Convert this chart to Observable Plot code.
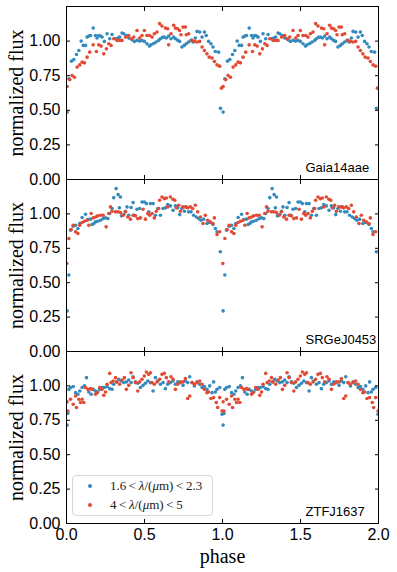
<!DOCTYPE html>
<html>
<head>
<meta charset="utf-8">
<script src="https://cdn.jsdelivr.net/npm/d3@7"></script>
<script src="https://cdn.jsdelivr.net/npm/@observablehq/plot@0.6"></script>
<style>
  body { margin: 0; background: #fff; }
  #chart { position: relative; width: 397px; height: 572px; overflow: hidden; }
  #chart svg { position: absolute; left: 0; }
  .legend { position: absolute; left: 72px; top: 475px; width: 141px; height: 41px; box-sizing: border-box;
    border: 1px solid #d6d6d6; border-radius: 4px; background: rgba(255,255,255,0.85);
    font-family: "Liberation Serif", "Times New Roman", serif; font-size: 13px; color: #222; }
  .legend .row { position: absolute; left: 0; height: 16px; line-height: 16px; white-space: nowrap; }
  .legend .mk { position: absolute; left: 15px; top: 6px; width: 4px; height: 4px; border-radius: 50%; }
  .legend .tx { position: absolute; left: 37px; top: 0; }
</style>
</head>
<body>
<div id="chart"></div>
<script>
// ---- data: phase-folded light curves (one cycle, phase 0..1), plotted twice ----
const panels = ["Gaia14aae", "SRGeJ0453", "ZTFJ1637"];
const bands = ["1.6<λ/(μm)<2.3", "4<λ/(μm)<5"];
const bandColors = ["#348ABD", "#E24A33"];
const xTicks = [0, 0.5, 1, 1.5, 2];
const yTicks = [0, 0.25, 0.5, 0.75, 1];

const gaiaBlue = [[0.004,0.487],[0.015,0.727],[0.032,0.855],[0.047,0.867],[0.064,0.903],[0.079,0.932],[0.094,1.0],[0.107,0.969],[0.122,0.969],[0.132,1.029],[0.143,1.036],[0.154,1.041],[0.171,1.094],[0.186,1.041],[0.196,1.022],[0.207,1.041],[0.218,1.036],[0.228,1.029],[0.243,0.998],[0.26,1.053],[0.277,1.017],[0.292,1.048],[0.314,1.017],[0.329,1.022],[0.341,1.029],[0.356,1.058],[0.367,1.053],[0.384,1.041],[0.399,1.022],[0.42,1.01],[0.435,0.998],[0.452,1.005],[0.469,1.0],[0.484,1.005],[0.499,0.998],[0.516,0.981],[0.531,0.964],[0.542,0.973],[0.559,0.983],[0.574,0.993],[0.591,1.005],[0.602,1.017],[0.615,1.027],[0.627,1.029],[0.64,1.022],[0.655,1.036],[0.67,1.017],[0.687,1.029],[0.698,1.017],[0.713,1.005],[0.725,0.998],[0.74,0.957],[0.755,0.969],[0.768,0.981],[0.783,0.993],[0.798,1.005],[0.811,0.993],[0.826,1.022],[0.837,1.07],[0.854,1.065],[0.869,1.029],[0.884,1.065],[0.896,1.041],[0.911,0.998],[0.926,0.981],[0.939,0.957],[0.954,0.925],[0.975,0.92],[0.987,0.514]];
const gaiaRed = [[0.004,0.672],[0.021,0.722],[0.036,0.751],[0.051,0.739],[0.068,0.812],[0.085,0.828],[0.1,0.848],[0.115,0.843],[0.132,0.884],[0.149,0.92],[0.171,0.973],[0.192,0.925],[0.207,0.973],[0.222,0.964],[0.239,0.908],[0.256,0.944],[0.271,0.981],[0.286,0.969],[0.303,1.017],[0.324,1.005],[0.341,1.005],[0.356,1.005],[0.378,1.029],[0.399,1.041],[0.414,1.017],[0.431,1.029],[0.452,1.077],[0.469,1.022],[0.484,1.041],[0.499,1.077],[0.516,1.041],[0.533,1.041],[0.548,1.029],[0.563,1.053],[0.58,1.065],[0.597,1.126],[0.612,1.109],[0.634,1.094],[0.649,1.089],[0.655,0.973],[0.67,1.053],[0.687,1.114],[0.698,1.094],[0.713,1.089],[0.725,1.077],[0.734,1.046],[0.747,1.101],[0.762,1.101],[0.768,1.046],[0.783,1.053],[0.805,1.005],[0.82,0.998],[0.837,0.993],[0.854,0.998],[0.869,0.957],[0.884,0.932],[0.9,0.908],[0.915,0.884],[0.933,0.877],[0.948,0.853],[0.965,0.828],[0.982,0.819],[0.993,0.66]];

const srgBlue = [[0.004,0.295],[0.015,0.556],[0.026,0.882],[0.043,0.911],[0.058,0.918],[0.073,0.894],[0.085,0.93],[0.1,0.974],[0.122,0.998],[0.137,0.959],[0.154,0.962],[0.164,0.923],[0.175,0.93],[0.186,0.942],[0.2,0.947],[0.218,0.954],[0.235,0.966],[0.25,0.971],[0.265,0.966],[0.277,1.003],[0.292,1.039],[0.303,1.118],[0.318,1.184],[0.331,1.14],[0.346,1.123],[0.339,1.044],[0.352,0.986],[0.367,0.995],[0.378,1.019],[0.388,1.051],[0.399,0.99],[0.414,1.046],[0.427,1.082],[0.435,0.99],[0.452,1.034],[0.469,1.039],[0.484,1.087],[0.499,1.087],[0.512,1.075],[0.527,1.015],[0.538,1.075],[0.555,1.075],[0.57,0.99],[0.585,1.039],[0.602,0.99],[0.619,1.039],[0.634,1.044],[0.649,1.068],[0.666,1.058],[0.683,1.027],[0.698,1.058],[0.713,1.044],[0.726,0.995],[0.74,1.039],[0.756,1.019],[0.768,1.051],[0.783,1.015],[0.798,1.015],[0.815,0.99],[0.832,0.978],[0.847,0.966],[0.862,0.954],[0.879,0.962],[0.9,0.93],[0.918,0.937],[0.939,0.923],[0.954,0.894],[0.965,0.87],[0.986,0.725]];
const srgRed = [[0.002,0.64],[0.015,0.821],[0.03,0.887],[0.043,0.918],[0.058,0.87],[0.073,0.858],[0.085,0.918],[0.1,0.937],[0.115,0.947],[0.132,0.954],[0.143,0.918],[0.158,1.003],[0.171,0.971],[0.186,0.978],[0.2,0.986],[0.218,0.99],[0.235,0.99],[0.254,0.906],[0.271,1.003],[0.282,1.051],[0.292,1.019],[0.314,1.015],[0.329,1.015],[0.346,1.01],[0.363,0.99],[0.378,1.015],[0.393,0.978],[0.41,0.962],[0.427,0.99],[0.442,0.986],[0.457,0.966],[0.474,0.971],[0.491,1.034],[0.506,0.962],[0.521,1.003],[0.533,0.99],[0.548,1.003],[0.563,0.971],[0.576,1.019],[0.591,1.039],[0.597,1.099],[0.612,1.123],[0.627,1.111],[0.64,1.116],[0.649,1.051],[0.666,1.123],[0.683,1.106],[0.694,1.099],[0.704,1.044],[0.719,1.063],[0.73,1.019],[0.745,1.051],[0.762,1.051],[0.777,1.044],[0.794,1.051],[0.809,1.039],[0.826,1.063],[0.841,1.015],[0.858,0.978],[0.875,0.93],[0.89,0.99],[0.905,0.954],[0.922,0.942],[0.939,0.93],[0.948,0.971],[0.965,0.85],[0.982,0.87]];

const ztfBlue = [[0.004,0.715],[0.009,0.8],[0.015,0.975],[0.026,0.988],[0.043,0.995],[0.058,0.951],[0.073,0.939],[0.085,0.963],[0.1,0.988],[0.115,1.0],[0.128,1.06],[0.143,0.956],[0.158,0.939],[0.171,0.975],[0.186,0.963],[0.2,0.956],[0.213,0.975],[0.228,0.988],[0.243,0.988],[0.26,0.995],[0.277,0.98],[0.292,0.975],[0.303,1.012],[0.32,1.029],[0.335,1.048],[0.35,1.036],[0.367,1.024],[0.384,1.029],[0.399,1.043],[0.414,1.024],[0.427,1.067],[0.442,1.029],[0.457,1.019],[0.474,0.988],[0.491,1.004],[0.506,1.019],[0.521,1.036],[0.538,1.024],[0.555,0.963],[0.57,1.06],[0.585,1.036],[0.602,1.012],[0.619,1.024],[0.634,0.98],[0.649,1.012],[0.666,1.024],[0.683,1.036],[0.698,1.012],[0.713,1.029],[0.73,1.024],[0.747,1.004],[0.762,1.036],[0.777,1.024],[0.79,1.067],[0.805,1.024],[0.82,1.0],[0.837,1.029],[0.854,1.012],[0.869,0.988],[0.884,0.995],[0.9,0.975],[0.918,1.0],[0.933,0.951],[0.943,1.029],[0.954,0.956],[0.965,0.975],[0.982,0.988],[0.997,0.794]];
const ztfRed = [[0.004,0.884],[0.009,0.818],[0.026,0.903],[0.043,0.867],[0.058,0.927],[0.064,0.843],[0.079,0.903],[0.09,0.879],[0.1,0.903],[0.111,0.879],[0.122,0.988],[0.137,0.975],[0.154,0.98],[0.164,0.975],[0.186,0.939],[0.196,0.951],[0.213,0.988],[0.228,0.975],[0.239,0.932],[0.25,0.956],[0.26,1.012],[0.277,1.091],[0.286,1.024],[0.299,1.036],[0.314,1.06],[0.324,1.029],[0.341,1.012],[0.356,1.043],[0.371,1.06],[0.384,0.975],[0.399,1.004],[0.414,1.096],[0.427,1.06],[0.442,1.024],[0.457,0.963],[0.469,1.029],[0.484,1.048],[0.499,1.072],[0.512,1.101],[0.527,1.084],[0.538,1.096],[0.548,1.024],[0.563,1.012],[0.58,1.029],[0.597,1.048],[0.612,1.084],[0.627,1.091],[0.64,1.06],[0.655,1.029],[0.67,1.067],[0.683,1.048],[0.698,0.975],[0.713,1.012],[0.73,1.029],[0.747,1.029],[0.762,1.053],[0.777,0.908],[0.79,0.927],[0.805,1.024],[0.82,1.012],[0.837,1.024],[0.854,1.036],[0.869,1.012],[0.884,0.975],[0.9,0.951],[0.911,0.956],[0.926,0.908],[0.943,0.915],[0.96,0.879],[0.969,0.843],[0.982,0.915],[0.997,0.818]];

const seriesByPanel = {
  "Gaia14aae": [gaiaBlue, gaiaRed],
  "SRGeJ0453": [srgBlue, srgRed],
  "ZTFJ1637": [ztfBlue, ztfRed]
};

// build tidy rows, repeating the folded cycle over phase 0..2
function rowsFor(panel) {
  const rows = [];
  seriesByPanel[panel].forEach((pts, bi) => {
    for (const cycle of [0, 1]) {
      for (const [p, f] of pts) rows.push({phase: p + cycle, flux: f, band: bands[bi]});
    }
  });
  return rows;
}

const chart = document.getElementById("chart");
const sans = "'Liberation Sans', Arial, sans-serif";
const serif = "'Liberation Serif', 'Times New Roman', serif";
const layout = [
  {top: 0, height: 185, mt: 6, mb: 6},
  {top: 173, height: 184, mt: 6, mb: 6},
  {top: 345, height: 227, mt: 6, mb: 49}
];

panels.forEach((panel, i) => {
  const L = layout[i];
  const last = i === panels.length - 1;
  const blank = () => "";
  const marks = [
    Plot.dot(rowsFor(panel), {x: "phase", y: "flux", fill: "band", r: 1.8, clip: true}),
    Plot.frame({stroke: "black", strokeWidth: 1}),
    Plot.axisY(yTicks, {anchor: "left", tickSize: -4, tickPadding: 10, fontSize: 16, fontFamily: sans,
      tickFormat: d3.format(".2f"), label: null, stroke: "black", fill: "black"}),
    Plot.axisY(yTicks, {anchor: "right", tickSize: -4, tickFormat: blank, label: null, stroke: "black"}),
    Plot.axisX(xTicks, {anchor: "top", tickSize: -4, tickFormat: blank, label: null, stroke: "black"}),
    last
      ? Plot.axisX(xTicks, {anchor: "bottom", tickSize: -4, tickPadding: 9, fontSize: 16, fontFamily: sans,
          tickFormat: d3.format(".1f"), label: null, stroke: "black", fill: "black"})
      : Plot.axisX(xTicks, {anchor: "bottom", tickSize: -4, tickFormat: blank, label: null, stroke: "black"}),
    Plot.text(["normalized flux"], {frameAnchor: "left", dx: -50, rotate: -90, fontSize: 20,
      fontFamily: serif, fill: "black", textAnchor: "middle", lineAnchor: "middle"}),
    Plot.text([panel], {frameAnchor: "bottom-right", dx: -73, dy: -8, textAnchor: "start", lineAnchor: "bottom",
      fontSize: 13, fontFamily: sans, fill: "black"})
  ];
  if (last) {
    marks.push(Plot.text(["phase"], {frameAnchor: "bottom", dy: 33, fontSize: 20, fontFamily: serif,
      fill: "black", lineAnchor: "middle"}));
  }
  const svg = Plot.plot({
    width: 397,
    height: L.height,
    marginLeft: 66,
    marginRight: 19,
    marginTop: L.mt,
    marginBottom: L.mb,
    style: {background: "transparent", overflow: "visible"},
    x: {domain: [0, 2]},
    y: {domain: [0, 1.25]},
    color: {domain: bands, range: bandColors},
    marks
  });
  svg.style.top = L.top + "px";
  chart.appendChild(svg);
});

// legend (inside bottom panel, lower-left)
const legend = document.createElement("div");
legend.className = "legend";
const legendLabels = [
  "1.6&thinsp;&lt;&thinsp;<i>λ</i>/(<i>μ</i>m)&thinsp;&lt;&thinsp;2.3",
  "4&thinsp;&lt;&thinsp;<i>λ</i>/(<i>μ</i>m)&thinsp;&lt;&thinsp;5"
];
bands.forEach((b, i) => {
  const row = document.createElement("div");
  row.className = "row";
  row.style.top = (2 + i * 19) + "px";
  row.innerHTML = `<span class="mk" style="background:${bandColors[i]}"></span><span class="tx">${legendLabels[i]}</span>`;
  legend.appendChild(row);
});
chart.appendChild(legend);
</script>
</body>
</html>
